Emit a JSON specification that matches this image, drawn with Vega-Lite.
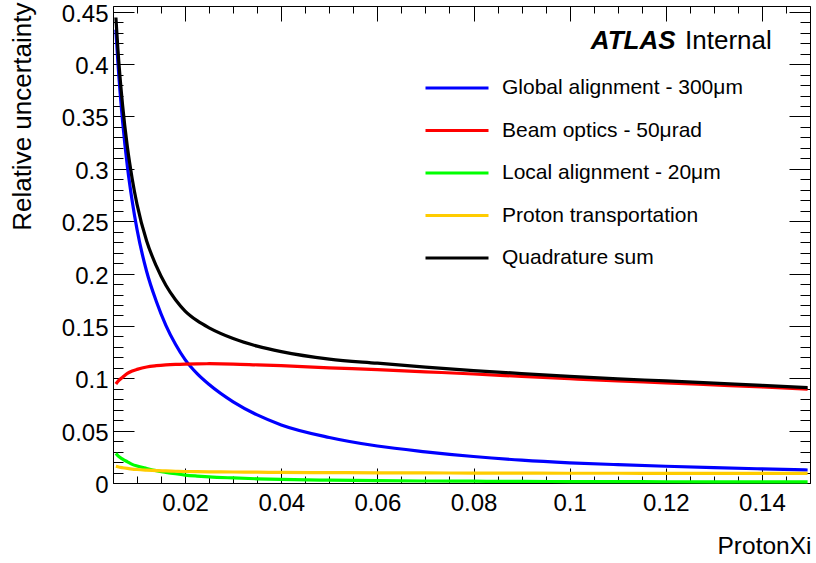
{
  "$schema": "https://vega.github.io/schema/vega-lite/v6.json",
  "width": 697,
  "height": 477,
  "autosize": {"type": "none"},
  "padding": {"left": 113, "top": 6, "right": 6, "bottom": 80},
  "background": "white",
  "data": {"values": [{}]},
  "resolve": {"axis": {"x": "independent", "y": "independent"}, "scale": {"x": "shared", "y": "shared"}},
  "config": {
    "view": {"stroke": "black", "strokeWidth": 1},
    "axis": {"grid": false, "domain": false, "tickColor": "black", "tickWidth": 1, "labelColor": "black", "titleColor": "black", "labelFont": "Liberation Sans", "titleFont": "Liberation Sans", "titleFontWeight": "normal", "labelFlush": false, "labelOverlap": false}
  },
  "layer": [
    {
      "data": {"values": [
        {"xi": 0.0056, "Global alignment - 300μm": 0.433, "Beam optics - 50μrad": 0.0945, "Local alignment - 20μm": 0.0283, "Proton transportation": 0.0160, "Quadrature sum": 0.4445},
        {"xi": 0.006, "Global alignment - 300μm": 0.403, "Beam optics - 50μrad": 0.097, "Local alignment - 20μm": 0.0262, "Proton transportation": 0.0155, "Quadrature sum": 0.4156},
        {"xi": 0.007, "Global alignment - 300μm": 0.345, "Beam optics - 50μrad": 0.101, "Local alignment - 20μm": 0.0228, "Proton transportation": 0.0146, "Quadrature sum": 0.3605},
        {"xi": 0.008, "Global alignment - 300μm": 0.302, "Beam optics - 50μrad": 0.1047, "Local alignment - 20μm": 0.0202, "Proton transportation": 0.0139, "Quadrature sum": 0.3206},
        {"xi": 0.009, "Global alignment - 300μm": 0.269, "Beam optics - 50μrad": 0.107, "Local alignment - 20μm": 0.0178, "Proton transportation": 0.0133, "Quadrature sum": 0.2904},
        {"xi": 0.010, "Global alignment - 300μm": 0.242, "Beam optics - 50μrad": 0.1085, "Local alignment - 20μm": 0.0162, "Proton transportation": 0.0129, "Quadrature sum": 0.2660},
        {"xi": 0.012, "Global alignment - 300μm": 0.202, "Beam optics - 50μrad": 0.1108, "Local alignment - 20μm": 0.0139, "Proton transportation": 0.0123, "Quadrature sum": 0.2311},
        {"xi": 0.014, "Global alignment - 300μm": 0.1736, "Beam optics - 50μrad": 0.112, "Local alignment - 20μm": 0.0118, "Proton transportation": 0.0118, "Quadrature sum": 0.2073},
        {"xi": 0.016, "Global alignment - 300μm": 0.1506, "Beam optics - 50μrad": 0.1128, "Local alignment - 20μm": 0.0102, "Proton transportation": 0.0115, "Quadrature sum": 0.1888},
        {"xi": 0.018, "Global alignment - 300μm": 0.1325, "Beam optics - 50μrad": 0.1133, "Local alignment - 20μm": 0.0088, "Proton transportation": 0.0112, "Quadrature sum": 0.1750},
        {"xi": 0.020, "Global alignment - 300μm": 0.1178, "Beam optics - 50μrad": 0.1136, "Local alignment - 20μm": 0.0076, "Proton transportation": 0.0110, "Quadrature sum": 0.1642},
        {"xi": 0.0225, "Global alignment - 300μm": 0.1044, "Beam optics - 50μrad": 0.1138, "Local alignment - 20μm": 0.0066, "Proton transportation": 0.0108, "Quadrature sum": 0.1550},
        {"xi": 0.025, "Global alignment - 300μm": 0.0940, "Beam optics - 50μrad": 0.1139, "Local alignment - 20μm": 0.0058, "Proton transportation": 0.0107, "Quadrature sum": 0.1482},
        {"xi": 0.030, "Global alignment - 300μm": 0.0775, "Beam optics - 50μrad": 0.1136, "Local alignment - 20μm": 0.0048, "Proton transportation": 0.0105, "Quadrature sum": 0.1380},
        {"xi": 0.035, "Global alignment - 300μm": 0.065, "Beam optics - 50μrad": 0.1128, "Local alignment - 20μm": 0.0040, "Proton transportation": 0.0103, "Quadrature sum": 0.1307},
        {"xi": 0.040, "Global alignment - 300μm": 0.0555, "Beam optics - 50μrad": 0.1120, "Local alignment - 20μm": 0.0034, "Proton transportation": 0.0101, "Quadrature sum": 0.1254},
        {"xi": 0.050, "Global alignment - 300μm": 0.0435, "Beam optics - 50μrad": 0.1100, "Local alignment - 20μm": 0.0027, "Proton transportation": 0.0099, "Quadrature sum": 0.1183},
        {"xi": 0.060, "Global alignment - 300μm": 0.0353, "Beam optics - 50μrad": 0.1083, "Local alignment - 20μm": 0.0022, "Proton transportation": 0.0097, "Quadrature sum": 0.1144},
        {"xi": 0.070, "Global alignment - 300μm": 0.0298, "Beam optics - 50μrad": 0.1062, "Local alignment - 20μm": 0.0019, "Proton transportation": 0.0096, "Quadrature sum": 0.1107},
        {"xi": 0.080, "Global alignment - 300μm": 0.0253, "Beam optics - 50μrad": 0.1041, "Local alignment - 20μm": 0.0017, "Proton transportation": 0.0095, "Quadrature sum": 0.1074},
        {"xi": 0.090, "Global alignment - 300μm": 0.0218, "Beam optics - 50μrad": 0.1018, "Local alignment - 20μm": 0.0015, "Proton transportation": 0.0094, "Quadrature sum": 0.1045},
        {"xi": 0.100, "Global alignment - 300μm": 0.0193, "Beam optics - 50μrad": 0.0996, "Local alignment - 20μm": 0.0014, "Proton transportation": 0.0093, "Quadrature sum": 0.1019},
        {"xi": 0.110, "Global alignment - 300μm": 0.0175, "Beam optics - 50μrad": 0.0975, "Local alignment - 20μm": 0.0013, "Proton transportation": 0.0093, "Quadrature sum": 0.0995},
        {"xi": 0.120, "Global alignment - 300μm": 0.0160, "Beam optics - 50μrad": 0.0957, "Local alignment - 20μm": 0.0012, "Proton transportation": 0.0092, "Quadrature sum": 0.0975},
        {"xi": 0.130, "Global alignment - 300μm": 0.0147, "Beam optics - 50μrad": 0.0937, "Local alignment - 20μm": 0.0011, "Proton transportation": 0.0092, "Quadrature sum": 0.0953},
        {"xi": 0.140, "Global alignment - 300μm": 0.0135, "Beam optics - 50μrad": 0.0917, "Local alignment - 20μm": 0.0010, "Proton transportation": 0.0092, "Quadrature sum": 0.0932},
        {"xi": 0.1495, "Global alignment - 300μm": 0.0124, "Beam optics - 50μrad": 0.0897, "Local alignment - 20μm": 0.0010, "Proton transportation": 0.0092, "Quadrature sum": 0.0910}
      ]},
      "transform": [{"fold": ["Global alignment - 300μm", "Beam optics - 50μrad", "Local alignment - 20μm", "Proton transportation", "Quadrature sum"], "as": ["source", "value"]}],
      "mark": {"type": "line", "strokeWidth": 3.2, "interpolate": "monotone"},
      "encoding": {
        "x": {"field": "xi", "type": "quantitative", "scale": {"domain": [0.005, 0.15], "nice": false, "zero": false},
          "axis": {"orient": "bottom", "values": [0.02, 0.04, 0.06, 0.08, 0.1, 0.12, 0.14], "format": "~g", "tickSize": -15, "labelPadding": 23, "labelFontSize": 24,
            "title": "ProtonXi", "titleFontSize": 24.5, "titleAnchor": "end", "titleAlign": "right", "titleBaseline": "alphabetic", "titleX": 698, "titleY": 70}},
        "y": {"field": "value", "type": "quantitative", "scale": {"domain": [0, 0.4555], "nice": false, "zero": false},
          "axis": {"orient": "left", "values": [0, 0.05, 0.1, 0.15, 0.2, 0.25, 0.3, 0.35, 0.4, 0.45], "format": "~g", "tickSize": -21, "labelPadding": 26, "labelOffset": 2.5, "labelFontSize": 24,
            "title": "Relative uncertainty", "titleFontSize": 26, "titleAngle": 270, "titleAnchor": "end", "titleAlign": "right", "titleBaseline": "alphabetic", "titleX": -83, "titleY": -4}},
        "color": {"field": "source", "type": "nominal",
          "scale": {"domain": ["Global alignment - 300μm", "Beam optics - 50μrad", "Local alignment - 20μm", "Proton transportation", "Quadrature sum"], "range": ["#0000ff", "#ff0000", "#00ff00", "#ffcc00", "#000000"]},
          "legend": {"orient": "none", "legendX": 332, "legendY": 70, "title": null, "padding": 0, "symbolType": "M-3,0L3,0", "symbolSize": 441, "symbolStrokeWidth": 3,
            "labelFont": "Liberation Sans", "labelFontSize": 21, "labelColor": "black", "labelOffset": 33, "rowPadding": 20.5, "labelLimit": 0}}
      }
    },
    {
      "mark": {"type": "text", "text": "ATLAS", "font": "Liberation Sans", "fontSize": 26, "fontWeight": "bold", "fontStyle": "italic", "align": "left", "baseline": "alphabetic", "color": "black"},
      "encoding": {
        "x": {"datum": 0.1044, "type": "quantitative",
          "axis": {"orient": "bottom", "values": [0.005, 0.01, 0.015, 0.025, 0.03, 0.035, 0.045, 0.05, 0.055, 0.065, 0.07, 0.075, 0.085, 0.09, 0.095, 0.105, 0.11, 0.115, 0.125, 0.13, 0.135, 0.145, 0.15], "tickSize": -7, "labels": false, "title": null}},
        "y": {"datum": 0.414, "type": "quantitative",
          "axis": {"orient": "left", "values": [0.01, 0.02, 0.03, 0.04, 0.06, 0.07, 0.08, 0.09, 0.11, 0.12, 0.13, 0.14, 0.16, 0.17, 0.18, 0.19, 0.21, 0.22, 0.23, 0.24, 0.26, 0.27, 0.28, 0.29, 0.31, 0.32, 0.33, 0.34, 0.36, 0.37, 0.38, 0.39, 0.41, 0.42, 0.43, 0.44], "tickSize": -10, "labels": false, "title": null}}
      }
    },
    {
      "mark": {"type": "text", "text": "Internal", "font": "Liberation Sans", "fontSize": 26, "align": "left", "baseline": "alphabetic", "color": "black"},
      "encoding": {
        "x": {"datum": 0.1240, "type": "quantitative",
          "axis": {"orient": "top", "values": [0.02, 0.04, 0.06, 0.08, 0.1, 0.12, 0.14], "tickSize": -15, "labels": false, "title": null}},
        "y": {"datum": 0.414, "type": "quantitative",
          "axis": {"orient": "right", "values": [0, 0.05, 0.1, 0.15, 0.2, 0.25, 0.3, 0.35, 0.4, 0.45], "tickSize": -21, "labels": false, "title": null}}
      }
    },
    {
      "mark": {"type": "point", "opacity": 0},
      "encoding": {
        "x": {"datum": 0.1, "type": "quantitative",
          "axis": {"orient": "top", "values": [0.005, 0.01, 0.015, 0.025, 0.03, 0.035, 0.045, 0.05, 0.055, 0.065, 0.07, 0.075, 0.085, 0.09, 0.095, 0.105, 0.11, 0.115, 0.125, 0.13, 0.135, 0.145, 0.15], "tickSize": -7, "labels": false, "title": null}},
        "y": {"datum": 0.1, "type": "quantitative",
          "axis": {"orient": "right", "values": [0.01, 0.02, 0.03, 0.04, 0.06, 0.07, 0.08, 0.09, 0.11, 0.12, 0.13, 0.14, 0.16, 0.17, 0.18, 0.19, 0.21, 0.22, 0.23, 0.24, 0.26, 0.27, 0.28, 0.29, 0.31, 0.32, 0.33, 0.34, 0.36, 0.37, 0.38, 0.39, 0.41, 0.42, 0.43, 0.44], "tickSize": -10, "labels": false, "title": null}}
      }
    }
  ]
}
